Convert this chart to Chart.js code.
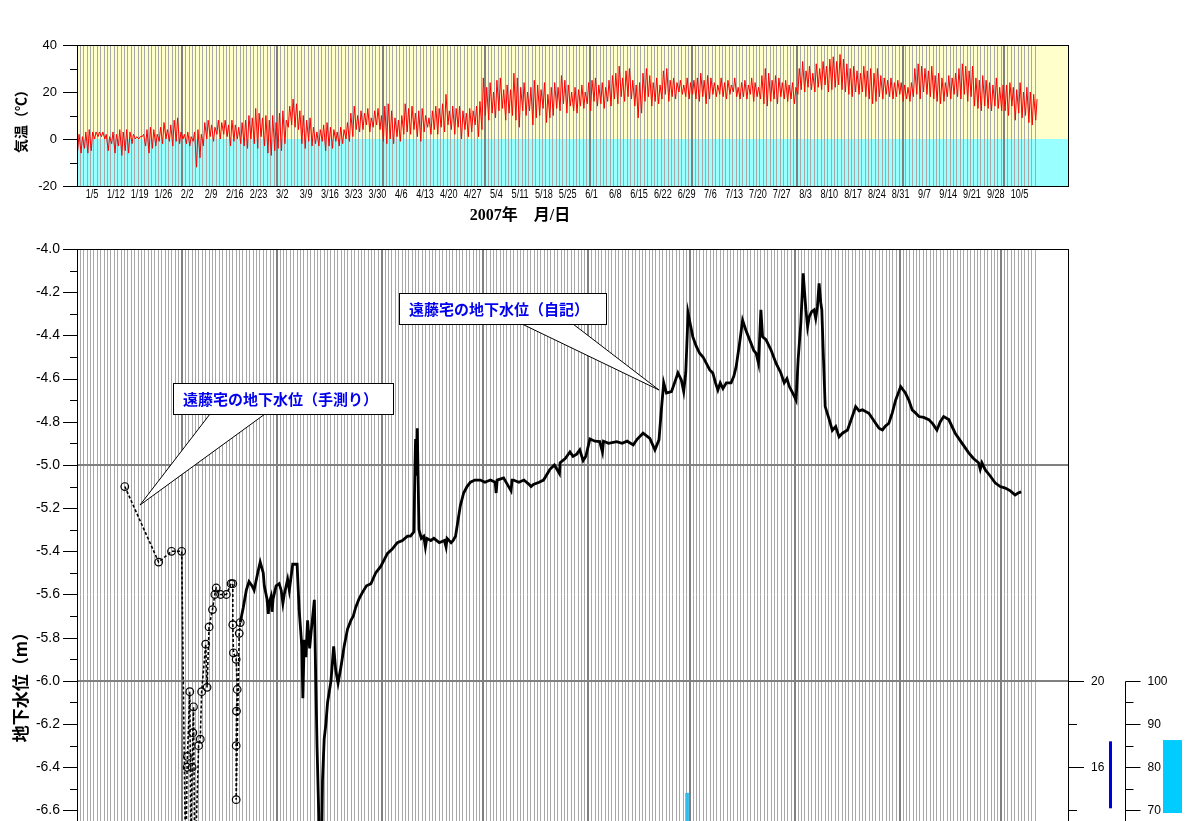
<!DOCTYPE html>
<html lang="ja">
<head>
<meta charset="utf-8">
<title>気温と地下水位 2007</title>
<script src="https://cdn.jsdelivr.net/npm/chart.js@4.4.1/dist/chart.umd.min.js"></script>
<style>
  html, body { margin: 0; padding: 0; background: #fff; overflow: hidden; }
  #wrap { position: relative; width: 1188px; height: 821px; overflow: hidden; }
  #tempChart { position: absolute; left: 0; top: 0; }
  #waterChart { position: absolute; left: 0; top: 235px; }
</style>
</head>
<body>
<div id="wrap">
  <canvas id="tempChart" width="1188" height="235"></canvas>
  <canvas id="waterChart" width="1188" height="720"></canvas>
</div>
<script>
// Days are counted from Jan 1 2007 (= 0)

// Weekly date labels (first one on day 4, then every 7 days)
const weekLabels = [
    '1/5', '1/12', '1/19', '1/26', '2/2', '2/9', '2/16', '2/23', '3/2', '3/9',
    '3/16', '3/23', '3/30', '4/6', '4/13', '4/20', '4/27', '5/4', '5/11', '5/18',
    '5/25', '6/1', '6/8', '6/15', '6/22', '6/29', '7/6', '7/13', '7/20', '7/27',
    '8/3', '8/10', '8/17', '8/24', '8/31', '9/7', '9/14', '9/21', '9/28', '10/5'
];
const monthStartDays = [31, 59, 90, 120, 151, 181, 212, 243, 273];
const lastGridDay = 282;

// Daily minimum / maximum air temperature (deg C), Jan 1 - Oct 10
const tempMin = [
    -5, -6, -4, -6, -5, 0, 1,   1, 0, -5, -2, -6, -3, -7,   -5, -6, -2, 0, 0, 1, -3,
    -6, -4, -3, -1, -2, 0, -1,  -3, -1, -2, 0, -2, -3, -1,  -12, -8, -3, 0, 1, -1, 2,
    0, 2, 1, -3, -1, 0, -2,     -3, -4, 0, -2, -4, 1, -3,   -6, -7, -5, -4, -5, -2, 5,
    6, 5, 4, -2, -4, -1, -3,    -2, -3, -1, -5, -3, -4, -1, -3, -2, 0, -1, 1, 4, 3,
    4, 6, 3, 5, 6, 4, -1,       -2, 0, -2, 1, -1, 2, 3,     2, 4, 1, -1, 3, 5, 2,
    4, 2, 5, 3, 6, 4, 2,        5, 0, 4, 1, 3, 6, 1,        4, 10, 8, 11, 9, 12, 13,
    8, 11, 10, 8, 5, 12, 10,    12, 6, 9, 10, 13, 7, 9,     10, 13, 12, 15, 11, 14, 12,
    11, 14, 13, 15, 12, 16, 14, 15, 13, 16, 14, 17, 15, 18, 16, 18, 17, 14, 9, 11, 16,
    18, 14, 16, 15, 17, 19, 16, 18, 17, 20, 19, 18, 17, 19, 17, 16, 18, 15, 17, 19, 18,
    19, 18, 17, 19, 20, 18, 17, 18, 17, 19, 16, 18, 17, 15, 14, 16, 17, 15, 18, 17, 16,
    17, 15, 19, 21, 20, 22, 21, 20, 22, 21, 23, 20, 21, 22, 23, 21, 20, 19, 18, 20, 19,
    20, 18, 17, 15, 16, 18, 17, 19, 18, 17, 18, 19, 16, 17, 16, 18, 19, 17, 20, 19, 18,
    17, 16, 15, 16, 18, 17, 19, 18, 17, 19, 16, 18, 14, 13, 12, 14, 13, 12, 14, 13, 12,
    12, 10, 14, 8, 11, 9, 10,   7, 6, 8
];
const tempMax = [
    2, 1, 3, 4, 3, 3, 3,        3, 2, 1, 3, 2, 4, 3,        4, 3, 2, 1, 1, 2, 4,
    5, 4, 2, 5, 7, 4, 6,        8, 9, 3, 2, 3, 1, 3,        4, 2, 7, 8, 6, 5, 8,
    7, 8, 6, 8, 6, 5, 7,        8, 10, 9, 13, 11, 9, 10,    8, 10, 7, 11, 12, 8, 14,
    17, 15, 12, 10, 8, 9, 5,    3, 4, 6, 7, 5, 4, 3,        5, 4, 7, 11, 14, 10, 12,
    11, 13, 9, 12, 13, 10, 14,  15, 12, 9, 8, 10, 15, 13,   14, 11, 12, 13, 10, 9, 12,
    14, 13, 15, 19, 12, 14, 13, 14, 12, 11, 13, 12, 14, 16, 26, 22, 24, 20, 25, 26, 21,
    23, 21, 28, 26, 22, 24, 20, 22, 25, 23, 21, 24, 19, 22, 24, 22, 27, 25, 23, 20, 22,
    21, 23, 20, 24, 25, 26, 23, 24, 22, 25, 27, 28, 31, 26, 29, 30, 25, 23, 24, 28, 30,
    27, 24, 26, 23, 29, 30, 25, 26, 24, 25, 23, 26, 24, 25, 26, 28, 25, 27, 26, 24, 23,
    26, 24, 25, 23, 26, 22, 24, 25, 23, 26, 24, 22, 27, 30, 28, 25, 27, 26, 24, 25, 23,
    24, 22, 30, 33, 29, 31, 28, 32, 30, 33, 31, 34, 35, 33, 36, 34, 32, 30, 31, 29, 28,
    31, 29, 30, 28, 30, 27, 26, 25, 26, 24, 25, 24, 23, 22, 24, 30, 32, 31, 30, 29, 31,
    27, 28, 26, 24, 27, 26, 28, 30, 32, 31, 29, 31, 26, 25, 27, 25, 24, 23, 26, 22, 23,
    23, 24, 22, 21, 24, 20, 22, 20, 19, 17
];

// Groundwater level, logger record (m)
const autoDays = [
    47.7, 48.6, 49.5, 50.3, 51.2, 51.8, 53.0, 53.6, 54.5, 54.8, 55.6, 56.0, 56.2, 56.8, 57.1,
    57.4, 58.3, 59.2, 59.8, 60.3, 60.7, 61.7, 62.2, 63.2, 64.5, 65.1, 65.9, 66.2, 66.6, 67.1,
    67.6, 68.2, 68.6, 69.6, 69.9, 70.4, 70.9, 71.2, 71.7, 72.0, 72.5, 73.0, 73.5, 74.0, 74.5,
    75.3, 75.9, 76.6, 77.4, 78.4, 79.4, 80.4, 81.1, 81.8, 82.8, 83.8, 85.0, 86.3, 87.7, 89.2,
    90.2, 91.2, 92.6, 94.1, 95.6, 97.1, 98.0, 99.0, 99.3, 99.5, 99.8, 100.0, 100.5, 101.2, 101.9,
    102.4, 102.8, 104.0, 104.9, 106.5, 108.0, 108.5, 108.8, 110.0, 110.6, 111.3, 112.7, 113.7, 114.7, 115.7,
    117.0, 118.6, 120.0, 121.6, 123.0, 123.3, 123.6, 125.5, 127.7, 128.0, 128.4, 130.0, 131.5, 133.0, 133.6,
    134.3, 136.0, 137.3, 139.2, 140.5, 142.0, 142.2, 143.7, 145.1, 146.0, 147.1, 148.0, 149.0, 149.8, 151.0,
    152.5, 153.9, 154.7, 155.0, 156.5, 158.9, 160.5, 162.0, 163.8, 165.0, 166.7, 168.7, 170.2, 171.4, 172.1,
    172.8, 173.6, 175.1, 176.0, 177.0, 178.0, 178.7, 179.3, 180.0, 180.5, 181.4, 182.4, 183.4, 184.4, 185.4,
    186.4, 187.3, 188.1, 188.8, 189.5, 190.3, 191.3, 192.7, 193.5, 194.2, 195.2, 196.1, 197.1, 198.6, 199.4,
    200.1, 200.8, 201.5, 202.0, 203.0, 204.5, 206.0, 207.4, 208.4, 209.2, 209.9, 211.0, 211.9, 212.5, 213.3,
    214.0, 214.4, 214.8, 215.3, 215.8, 216.5, 217.2, 217.7, 218.2, 218.7, 219.2, 219.5, 219.9, 220.5, 221.7,
    222.6, 223.6, 224.6, 225.6, 227.1, 228.5, 229.5, 230.5, 231.5, 233.4, 235.4, 236.4, 237.4, 238.3, 239.3,
    240.3, 241.3, 242.8, 244.2, 245.2, 246.2, 247.2, 248.2, 249.6, 251.1, 252.3, 253.5, 254.5, 255.5, 257.0,
    258.9, 260.9, 262.9, 264.3, 265.8, 266.3, 266.8, 267.8, 269.2, 270.7, 272.2, 273.7, 275.2, 276.6, 277.5,
    278.4
];
const autoLevels = [
    -5.73, -5.66, -5.58, -5.54, -5.56, -5.58, -5.49, -5.45, -5.50, -5.56, -5.62, -5.69, -5.64, -5.61, -5.68,
    -5.62, -5.56, -5.55, -5.58, -5.64, -5.60, -5.53, -5.58, -5.46, -5.46, -5.67, -5.84, -6.08, -5.81, -5.89,
    -5.72, -5.85, -5.78, -5.625, -5.90, -6.31, -6.62, -6.90, -6.85, -6.46, -6.27, -6.20, -6.10, -6.05, -6.00,
    -5.84, -5.95, -6.01, -5.94, -5.84, -5.76, -5.72, -5.70, -5.66, -5.62, -5.59, -5.56, -5.55, -5.50, -5.47,
    -5.44, -5.41, -5.39, -5.36, -5.35, -5.33, -5.33, -5.31, -5.02, -4.88, -5.05, -4.83, -5.30, -5.34, -5.33,
    -5.38, -5.34, -5.35, -5.34, -5.36, -5.35, -5.38, -5.34, -5.36, -5.35, -5.33, -5.19, -5.13, -5.10, -5.08,
    -5.07, -5.07, -5.08, -5.07, -5.08, -5.13, -5.07, -5.06, -5.12, -5.07, -5.07, -5.08, -5.07, -5.09, -5.10,
    -5.09, -5.08, -5.07, -5.02, -5.00, -5.04, -4.99, -4.97, -4.94, -4.96, -4.95, -4.93, -4.98, -4.96, -4.88,
    -4.89, -4.892, -4.94, -4.89, -4.90, -4.892, -4.90, -4.89, -4.907, -4.88, -4.853, -4.877, -4.93, -4.884, -4.745,
    -4.62, -4.667, -4.66, -4.62, -4.574, -4.606, -4.66, -4.574, -4.297, -4.337, -4.407, -4.45, -4.483, -4.50, -4.53,
    -4.56, -4.574, -4.62, -4.653, -4.62, -4.646, -4.62, -4.62, -4.59, -4.545, -4.437, -4.33, -4.377, -4.437, -4.47,
    -4.483, -4.53, -4.282, -4.407, -4.42, -4.468, -4.53, -4.574, -4.62, -4.60, -4.637, -4.67, -4.70, -4.514, -4.343,
    -4.113, -4.20, -4.282, -4.36, -4.313, -4.29, -4.282, -4.32, -4.267, -4.159, -4.25, -4.282, -4.468, -4.73, -4.79,
    -4.84, -4.822, -4.87, -4.853, -4.838, -4.776, -4.73, -4.75, -4.745, -4.761, -4.807, -4.83, -4.838, -4.82, -4.807,
    -4.76, -4.70, -4.637, -4.667, -4.70, -4.745, -4.76, -4.776, -4.78, -4.79, -4.81, -4.838, -4.80, -4.776, -4.79,
    -4.853, -4.899, -4.944, -4.97, -4.99, -5.02, -4.99, -5.023, -5.05, -5.083, -5.10, -5.107, -5.12, -5.139, -5.13,
    -5.125
];

// Groundwater level, hand measurements (m)
const manualDays = [
    13.6, 23.6, 27.4, 30.4, 31.6, 32.0, 32.1, 32.8, 33.1, 33.5, 33.7, 33.9, 34.3, 35.4, 35.9,
    36.3, 37.5, 37.9, 38.5, 39.5, 40.2, 40.6, 41.9, 43.6, 45.0, 45.5, 45.5, 45.7, 46.5, 46.8,
    46.6, 46.5, 46.5, 47.4, 47.7
];
const manualLevels = [
    -5.10, -5.45, -5.40, -5.40, -6.90, -6.40, -6.35, -6.05, -6.75, -6.40, -6.24, -6.12, -6.90, -6.30, -6.27,
    -6.05, -5.83, -6.03, -5.75, -5.67, -5.60, -5.57, -5.60, -5.60, -5.55, -5.55, -5.74, -5.87, -5.90, -6.04,
    -6.14, -6.30, -6.55, -5.78, -5.73
];

// Bar on the first right-hand scale inside the plot
const rainDays = [179.7];
const rainValues = [14.8];

// The two bars standing beside the right-hand scales (top, bottom)
const sideBarFirstScale = [17.2, 14.1];
const sideBarSecondScale = [86.3, 69.4];

const COLORS = {
    warm: '#ffffcc',
    cold: '#99ffff',
    dayGrid: '#a8a8a8',
    monthGrid: '#808080',
    temp: '#ff0000',
    water: '#000000',
    callout: '#0000ee',
    rainBar: '#33bbee',
    sideBlue: '#0000dd',
    sideCyan: '#00ccff'
};

const LABEL_FONT = "'Liberation Sans', Arial, sans-serif";
const JP_FONT = "'Noto Sans CJK JP', sans-serif";
const HIDDEN = 'rgba(0,0,0,0)';

// Grid positions: one line a day, thicker at each month start
const gridDays = [];
for (let d = 1; d <= lastGridDay; d++) gridDays.push(d);
const weekLabelDays = weekLabels.map((_, i) => 4 + 7 * i);

function isMonth(v) {
    return monthStartDays.includes(v);
}

const dayGrid = {
    drawOnChartArea: true,
    drawTicks: false,
    color: ctx => isMonth(ctx.tick && ctx.tick.value) ? COLORS.monthGrid : COLORS.dayGrid,
    lineWidth: ctx => isMonth(ctx.tick && ctx.tick.value) ? 2 : 1
};

function setDayTicks(scale) {
    scale.ticks = gridDays.map(v => ({ value: v }));
}

// Short and long tick marks on the left of the plot
function drawLeftTicks(chart, axis, step, majorEvery) {
    const { ctx, chartArea: a } = chart;
    const s = chart.scales[axis];
    ctx.save();
    ctx.strokeStyle = '#000';
    ctx.lineWidth = 1;
    const n = Math.round((s.max - s.min) / step);
    for (let i = 0; i <= n; i++) {
        const v = s.min + i * step;
        const major = Math.round(v / step) % majorEvery === 0;
        const y = Math.round(s.getPixelForValue(v)) + 0.5;
        ctx.beginPath();
        ctx.moveTo(a.left - (major ? 14 : 7), y);
        ctx.lineTo(a.left, y);
        ctx.stroke();
    }
    ctx.restore();
}

function drawFrame(chart) {
    const { ctx, chartArea: a } = chart;
    ctx.save();
    ctx.strokeStyle = '#000';
    ctx.lineWidth = 1;
    ctx.strokeRect(a.left + 0.5, a.top + 0.5, a.width - 1, a.height);
    ctx.restore();
}

function drawVerticalTitle(ctx, text, x, y, size) {
    ctx.save();
    ctx.translate(x, y);
    ctx.rotate(-Math.PI / 2);
    ctx.font = `bold ${size}px ${JP_FONT}`;
    ctx.fillStyle = '#000';
    ctx.textAlign = 'center';
    ctx.textBaseline = 'middle';
    ctx.fillText(text, 0, 0);
    ctx.restore();
}

// Top panel: warm / cold background, frame, ticks, date labels, titles
const tempPanel = {
    id: 'tempPanel',
    beforeDraw(chart) {
        const { ctx, chartArea: a } = chart;
        const zero = chart.scales.y.getPixelForValue(0);
        ctx.save();
        ctx.fillStyle = COLORS.warm;
        ctx.fillRect(a.left, a.top, a.width, zero - a.top);
        ctx.fillStyle = COLORS.cold;
        ctx.fillRect(a.left, zero, a.width, a.bottom - zero);
        ctx.restore();
    },
    afterDraw(chart) {
        const { ctx, chartArea: a } = chart;
        const xs = chart.scales.x;
        drawFrame(chart);
        drawLeftTicks(chart, 'y', 10, 2);

        // narrow date labels under the axis
        ctx.save();
        ctx.font = `12px ${LABEL_FONT}`;
        ctx.fillStyle = '#000';
        ctx.textAlign = 'center';
        ctx.textBaseline = 'middle';
        weekLabels.forEach((t, i) => {
            const px = xs.getPixelForValue(weekLabelDays[i]) + 1.5;
            ctx.save();
            ctx.translate(px, a.bottom + 9);
            ctx.scale(0.76, 1);
            ctx.fillText(t, 0, 0);
            ctx.restore();
        });
        ctx.restore();

        drawVerticalTitle(ctx, '気温（℃）', 21, 118, 14);
        ctx.save();
        ctx.font = `bold 16px 'Liberation Serif', ${JP_FONT}`;
        ctx.fillStyle = '#000';
        ctx.textAlign = 'center';
        ctx.textBaseline = 'middle';
        ctx.fillText('2007年　月/日', 520, 216);
        ctx.restore();
    }
};

// Callout boxes with a pointed tail
function drawCallout(ctx, box, tail, text) {
    ctx.save();
    ctx.fillStyle = '#fff';
    ctx.strokeStyle = '#000';
    ctx.lineWidth = 1;
    ctx.beginPath();
    ctx.moveTo(tail.x1, box.y + box.h);
    ctx.lineTo(tail.tx, tail.ty);
    ctx.lineTo(tail.x2, box.y + box.h);
    ctx.closePath();
    ctx.fill();
    ctx.beginPath();
    ctx.moveTo(tail.x1, box.y + box.h);
    ctx.lineTo(tail.tx, tail.ty);
    ctx.lineTo(tail.x2, box.y + box.h);
    ctx.stroke();
    ctx.fillRect(box.x, box.y, box.w, box.h);
    ctx.strokeRect(box.x + 0.5, box.y + 0.5, box.w, box.h);
    ctx.font = `bold 15px ${JP_FONT}`;
    ctx.fillStyle = COLORS.callout;
    ctx.textAlign = 'left';
    ctx.textBaseline = 'middle';
    ctx.fillText(text, box.x + 10, box.y + box.h / 2 + 1);
    ctx.restore();
}

// Bottom panel: frame, ticks, callouts, the two right-hand scales
const waterPanel = {
    id: 'waterPanel',
    afterDatasetsDraw(chart) {
        const { ctx } = chart;
        drawCallout(ctx, { x: 173, y: 148, w: 220, h: 31 },
            { x1: 210, x2: 265, tx: 140, ty: 270 }, '遠藤宅の地下水位（手測り）');
        drawCallout(ctx, { x: 399, y: 58, w: 207, h: 31 },
            { x1: 522, x2: 573, tx: 659, ty: 155 }, '遠藤宅の地下水位（自記）');
    },
    afterDraw(chart) {
        const { ctx, chartArea: a } = chart;
        drawFrame(chart);
        drawLeftTicks(chart, 'y', 0.1, 2);
        drawVerticalTitle(ctx, '地下水位（m）', 21, 448, 17);

        const s2 = chart.scales.y2;
        const s3 = chart.scales.y3;
        ctx.save();
        ctx.strokeStyle = '#000';
        ctx.fillStyle = '#000';
        ctx.lineWidth = 1;
        ctx.font = `12px ${LABEL_FONT}`;
        ctx.textAlign = 'left';
        ctx.textBaseline = 'middle';
        // first right-hand scale sits on the plot border, shown from 20 down
        for (let v = 20; v >= s2.min; v -= 2) {
            const y = Math.round(s2.getPixelForValue(v)) + 0.5;
            const major = v % 4 === 0;
            ctx.beginPath();
            ctx.moveTo(a.right, y);
            ctx.lineTo(a.right + (major ? 15 : 8), y);
            ctx.stroke();
            if (major) ctx.fillText(String(v), a.right + 22, y);
        }
        // second right-hand scale, shown from 100 down
        const x3 = a.right + 56.5;
        ctx.beginPath();
        ctx.moveTo(x3, Math.round(s3.getPixelForValue(100)) + 0.5);
        ctx.lineTo(x3, a.bottom);
        ctx.stroke();
        for (let v = 100; v >= s3.min; v -= 5) {
            const y = Math.round(s3.getPixelForValue(v)) + 0.5;
            const major = v % 10 === 0;
            ctx.beginPath();
            ctx.moveTo(x3, y);
            ctx.lineTo(x3 + (major ? 15 : 8), y);
            ctx.stroke();
            if (major) ctx.fillText(String(v), x3 + 22, y);
        }
        // bars beside the scales
        const b1 = sideBarFirstScale.map(v => s2.getPixelForValue(v));
        ctx.fillStyle = COLORS.sideBlue;
        ctx.fillRect(a.right + 40, b1[0], 3, b1[1] - b1[0]);
        const b2 = sideBarSecondScale.map(v => s3.getPixelForValue(v));
        ctx.fillStyle = COLORS.sideCyan;
        ctx.fillRect(a.right + 94, b2[0], 19, b2[1] - b2[0]);
        ctx.restore();
    }
};

// Temperature points: morning minimum then afternoon maximum of each day
const tempPoints = [];
tempMin.forEach((v, d) => {
    tempPoints.push({ x: d + 0.2, y: v });
    tempPoints.push({ x: d + 0.6, y: tempMax[d] });
});

const autoPoints = autoDays.map((d, i) => ({ x: d, y: autoLevels[i] }));
const manualPoints = manualDays.map((d, i) => ({ x: d, y: manualLevels[i] }));
const rainPoints = rainDays.map((d, i) => ({ x: d, y: [8, rainValues[i]] }));

const X_MIN = 0;
const X_MAX = 292;

function createTempChart() {
    new Chart(document.getElementById('tempChart'), {
        type: 'line',
        data: {
            datasets: [{
                data: tempPoints,
                borderColor: COLORS.temp,
                borderWidth: 1,
                pointRadius: 0,
                tension: 0
            }]
        },
        options: {
            responsive: false,
            animation: false,
            events: [],
            layout: { padding: { top: 45, right: 119, left: 0, bottom: 0 } },
            plugins: { legend: { display: false }, tooltip: { enabled: false } },
            scales: {
                x: {
                    type: 'linear',
                    min: X_MIN,
                    max: X_MAX,
                    afterBuildTicks: setDayTicks,
                    afterFit: s => { s.height = 49; },
                    grid: dayGrid,
                    border: { display: false },
                    ticks: { display: false }
                },
                y: {
                    min: -20,
                    max: 40,
                    afterFit: s => { s.width = 77; },
                    grid: { drawOnChartArea: false, tickLength: 14, tickColor: HIDDEN },
                    border: { display: false },
                    ticks: {
                        stepSize: 10,
                        padding: 6,
                        color: '#000',
                        font: { family: LABEL_FONT, size: 13 },
                        callback: v => (v % 20 === 0 ? String(v) : '')
                    }
                }
            }
        },
        plugins: [tempPanel]
    });
}

function createWaterChart() {
    new Chart(document.getElementById('waterChart'), {
        type: 'line',
        data: {
            datasets: [
                {
                    label: '遠藤宅の地下水位（自記）',
                    data: autoPoints,
                    borderColor: COLORS.water,
                    borderWidth: 2.8,
                    pointRadius: 0,
                    tension: 0
                },
                {
                    label: '遠藤宅の地下水位（手測り）',
                    data: manualPoints,
                    borderColor: COLORS.water,
                    borderWidth: 1.6,
                    borderDash: [3, 2],
                    pointRadius: 3.8,
                    pointBorderWidth: 1.2,
                    pointBorderColor: COLORS.water,
                    pointBackgroundColor: HIDDEN,
                    tension: 0
                },
                {
                    type: 'bar',
                    data: rainPoints,
                    yAxisID: 'y2',
                    backgroundColor: COLORS.rainBar,
                    barThickness: 3
                }
            ]
        },
        options: {
            responsive: false,
            animation: false,
            events: [],
            layout: { padding: { top: 14, right: 119, left: 0, bottom: 0 } },
            plugins: { legend: { display: false }, tooltip: { enabled: false } },
            scales: {
                x: {
                    type: 'linear',
                    min: X_MIN,
                    max: X_MAX,
                    afterBuildTicks: setDayTicks,
                    afterFit: s => { s.height = 15; },
                    grid: dayGrid,
                    border: { display: false },
                    ticks: { display: false }
                },
                y: {
                    min: -7.2,
                    max: -4.0,
                    afterFit: s => { s.width = 77; },
                    border: { display: false },
                    grid: {
                        tickLength: 14,
                        tickColor: HIDDEN,
                        color: ctx => {
                            const v = ctx.tick ? ctx.tick.value : 0;
                            return (Math.abs(v + 5) < 1e-6 || Math.abs(v + 6) < 1e-6) ? COLORS.monthGrid : HIDDEN;
                        },
                        lineWidth: 2
                    },
                    ticks: {
                        stepSize: 0.1,
                        padding: 3,
                        color: '#000',
                        font: { family: LABEL_FONT, size: 14 },
                        callback: v => (Math.round(v * 10) % 2 === 0 ? v.toFixed(1) : '')
                    }
                },
                y2: { display: false, min: 8, max: 40 },
                y3: { display: false, min: 40, max: 200 }
            }
        },
        plugins: [waterPanel]
    });
}

createTempChart();
createWaterChart();
</script>
</body>
</html>
